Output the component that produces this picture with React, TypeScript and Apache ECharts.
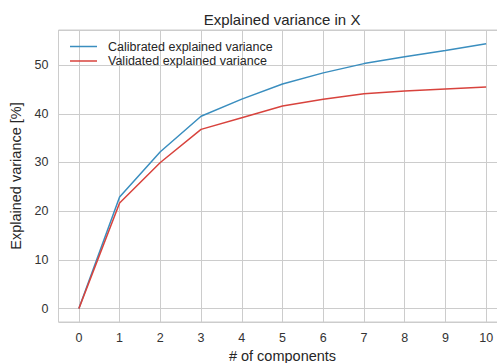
import React, { useEffect, useRef } from "react";
import * as echarts from "echarts";

const components = [0, 1, 2, 3, 4, 5, 6, 7, 8, 9, 10];
const calibrated = [0, 22.9, 32.2, 39.5, 43.0, 46.1, 48.4, 50.3, 51.7, 53.0, 54.4];
const validated = [0, 21.7, 30.0, 36.8, 39.2, 41.6, 43.0, 44.1, 44.7, 45.1, 45.5];
const seriesNames = ["Calibrated explained variance", "Validated explained variance"];

const FONT = "Liberation Sans, Arial, Helvetica, sans-serif";
const TEXT = "#262626";
const GRID = "#cccccc";

export default function App() {
  const ref = useRef<HTMLDivElement>(null);

  useEffect(() => {
    if (!ref.current) return;
    const chart = echarts.init(ref.current, undefined, { renderer: "svg" });
    chart.setOption({
      animation: false,
      backgroundColor: "#ffffff",
      textStyle: { fontFamily: FONT },
      grid: {
        left: 58.5,
        right: 0.5,
        top: 30,
        bottom: 41,
        outerBoundsMode: "none",
        containLabel: false,
        show: true,
        borderColor: GRID,
        borderWidth: 1,
        backgroundColor: "#ffffff",
      },
      graphic: [
        {
          type: "text",
          x: 282,
          y: 19,
          style: {
            text: "Explained variance in X",
            fontFamily: FONT,
            fontSize: 15,
            fill: TEXT,
            textAlign: "center",
            textVerticalAlign: "middle",
          },
        },
      ],
      legend: {
        orient: "vertical",
        left: 70,
        top: 40,
        padding: 0,
        itemWidth: 27,
        itemHeight: 1.5,
        itemGap: 1.5,
        icon: "rect",
        textStyle: {
          fontFamily: FONT,
          fontSize: 12.5,
          color: TEXT,
          lineHeight: 13,
          padding: [0, 0, 0, 6],
        },
        data: seriesNames,
      },
      xAxis: {
        type: "value",
        min: -0.5,
        max: 10.5,
        splitNumber: 11,
        minInterval: 1,
        maxInterval: 1,
        name: "# of components",
        nameLocation: "middle",
        nameGap: 25,
        nameTextStyle: { fontFamily: FONT, fontSize: 14.5, color: TEXT },
        axisLine: { show: false },
        axisTick: { show: false },
        axisLabel: {
          showMinLabel: false,
          showMaxLabel: false,
          margin: 9,
          fontFamily: FONT,
          fontSize: 12.5,
          color: "#333333",
        },
        splitLine: { show: true, lineStyle: { color: GRID, width: 1 } },
      },
      yAxis: {
        type: "value",
        min: -2.75,
        max: 57.2,
        splitNumber: 6,
        minInterval: 10,
        maxInterval: 10,
        name: "Explained variance [%]",
        nameLocation: "middle",
        nameGap: 28,
        nameTextStyle: { fontFamily: FONT, fontSize: 14.5, color: TEXT },
        axisLine: { show: false },
        axisTick: { show: false },
        axisLabel: {
          showMinLabel: false,
          showMaxLabel: false,
          margin: 10,
          fontFamily: FONT,
          fontSize: 12.5,
          color: "#333333",
        },
        splitLine: { show: true, lineStyle: { color: GRID, width: 1 } },
      },
      series: [
        {
          name: seriesNames[0],
          type: "line",
          data: components.map((c, i) => [c, calibrated[i]]),
          showSymbol: false,
          symbol: "none",
          color: "#3a8ebf",
          lineStyle: { width: 1.5, color: "#3a8ebf" },
        },
        {
          name: seriesNames[1],
          type: "line",
          data: components.map((c, i) => [c, validated[i]]),
          showSymbol: false,
          symbol: "none",
          color: "#d8433d",
          lineStyle: { width: 1.5, color: "#d8433d" },
        },
      ],
    });
    return () => chart.dispose();
  }, []);

  return (
    <div
      style={{
        position: "absolute",
        left: 0,
        top: 0,
        width: 497,
        height: 363,
        overflow: "hidden",
        background: "#ffffff",
      }}
    >
      <div ref={ref} style={{ width: 507, height: 363 }} />
    </div>
  );
}
